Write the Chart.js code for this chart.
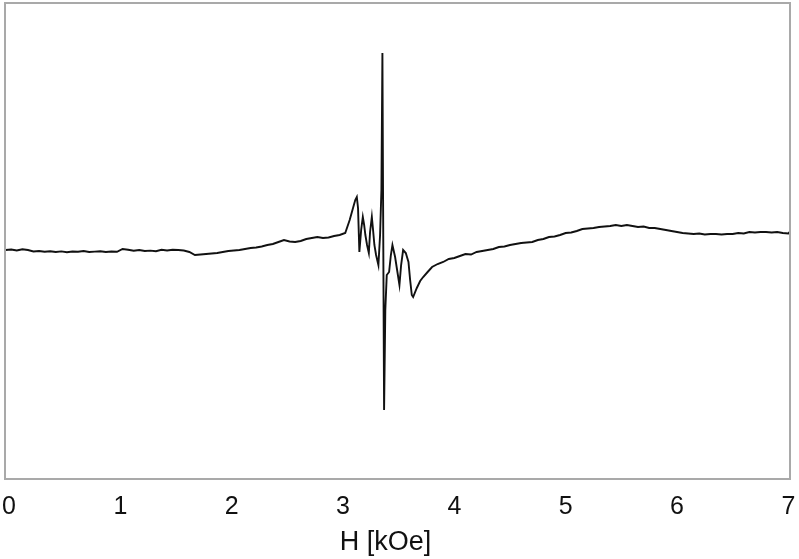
<!DOCTYPE html>
<html>
<head>
<meta charset="utf-8">
<script src="https://cdn.jsdelivr.net/npm/chart.js@4/dist/chart.umd.min.js"></script>
<style>
  html, body { margin: 0; padding: 0; background: #ffffff; }
  #wrap { width: 799px; height: 559px; }
</style>
</head>
<body>
<div id="wrap"><canvas id="c" width="799" height="559"></canvas></div>
<script>
// Magnetic field H [kOe]
const hField = [
  -0.03, 0.02, 0.07, 0.12, 0.17, 0.22, 0.27, 0.32, 0.37, 0.42, 0.47, 0.52, 0.57, 0.62, 0.67, 0.72, 0.77, 0.82, 0.87, 0.92,
  0.97, 1.02, 1.07, 1.12, 1.17, 1.22, 1.27, 1.32, 1.37, 1.42, 1.47, 1.52, 1.57, 1.62, 1.67, 1.72, 1.77, 1.82, 1.87, 1.92,
  1.97, 2.02, 2.07, 2.12, 2.17, 2.22, 2.27, 2.32, 2.37, 2.42, 2.47, 2.52, 2.57, 2.62, 2.67, 2.72, 2.77, 2.82, 2.87, 2.92,
  2.97, 3.02, 3.06, 3.09, 3.11, 3.124, 3.135, 3.147, 3.163, 3.178, 3.19, 3.201, 3.216, 3.232, 3.243, 3.259, 3.27, 3.282,
  3.297, 3.318, 3.333, 3.345, 3.354, 3.360, 3.369, 3.38, 3.393, 3.414, 3.43, 3.444, 3.468, 3.486, 3.507, 3.522, 3.540,
  3.564, 3.588, 3.603, 3.618, 3.630, 3.663, 3.693, 3.72, 3.76, 3.80, 3.85, 3.90, 3.95, 4.00, 4.05, 4.10, 4.15, 4.20,
  4.25, 4.30, 4.35, 4.40, 4.45, 4.50, 4.55, 4.60, 4.65, 4.70, 4.75, 4.80, 4.85, 4.90, 4.95, 5.00, 5.05, 5.10, 5.15,
  5.20, 5.25, 5.30, 5.35, 5.40, 5.45, 5.50, 5.55, 5.60, 5.65, 5.70, 5.75, 5.80, 5.85, 5.90, 5.95, 6.00, 6.05, 6.10,
  6.15, 6.20, 6.25, 6.30, 6.35, 6.40, 6.45, 6.50, 6.55, 6.60, 6.65, 6.70, 6.75, 6.80, 6.85, 6.90, 6.95, 7.00, 7.01
];
// EPR signal (arbitrary units)
const signal = [
  0, 0.5, -0.5, 0.8, 0, -1.5, -1, -1.8, -1.2, -2, -1.4, -2.2, -1.5, -1.8, -1, -2, -1.6, -1.2, -2, -1.5,
  -1.8, 1, 0.2, -0.8, 0, -1, -0.6, -1.2, 0.2, -0.5, 0.3, 0, -0.5, -2, -5, -4.5, -4, -3.5, -3, -2,
  -1, -0.5, 0, 1, 2, 2.5, 3.5, 5, 6, 8, 10, 8.5, 8, 9, 11, 12, 13, 12, 12.5, 14,
  15, 17, 30, 42, 50, 53, 42, -2, 20, 33, 25, 15, 5, -3, 18, 33, 20, 5,
  -5, -15, 15, 60, 197, 50, -160, -60, -25, -22, -5, 5, -7, -20, -35, -15, 0,
  -3, -12, -30, -45, -47, -38, -31, -27, -22, -17, -14, -12, -9, -8, -6, -4, -4.5, -2,
  -1, 0, 1, 3, 3.5, 5, 6, 7, 7.5, 8, 10, 11, 13, 13.5, 15, 17, 17.5, 19, 21,
  21.5, 22, 23, 23.5, 24, 25, 24, 25, 24, 23, 23.5, 22, 22, 21, 20, 19, 18, 17, 16.5,
  16, 16.5, 15.5, 16, 16, 15.5, 16, 16, 17, 16.5, 18, 17.5, 18, 18, 17.5, 18, 17, 16.5, 18
];
const xTicks = [0, 1, 2, 3, 4, 5, 6, 7];
const xTitle = 'H [kOe]';

const points = hField.map((h, i) => ({ x: h, y: signal[i] }));

const frame = {
  id: 'frame',
  afterDatasetsDraw(chart) {
    const a = chart.chartArea, ctx = chart.ctx;
    ctx.save();
    ctx.strokeStyle = '#a9a9a9';
    ctx.lineWidth = 2;
    ctx.strokeRect(a.left, a.top, a.right - a.left, a.bottom - a.top);
    ctx.restore();
  },
  afterDraw(chart) {
    const a = chart.chartArea, ctx = chart.ctx;
    ctx.save();
    ctx.font = '27px "Liberation Sans", Arial, sans-serif';
    ctx.fillStyle = '#111';
    ctx.textAlign = 'center';
    ctx.textBaseline = 'middle';
    ctx.fillText(xTitle, (a.left + a.right) / 2 - 12, 543);
    ctx.restore();
  }
};

new Chart(document.getElementById('c'), {
  type: 'line',
  data: {
    datasets: [{
      data: points,
      borderColor: '#111111',
      borderWidth: 1.9,
      pointRadius: 0,
      tension: 0,
      fill: false
    }]
  },
  options: {
    responsive: false,
    animation: false,
    devicePixelRatio: 1,
    layout: { padding: { left: 5, right: 9, top: 3, bottom: 37 } },
    plugins: { legend: { display: false }, tooltip: { enabled: false } },
    scales: {
      x: {
        type: 'linear',
        min: -0.036,
        max: 7.015,
        afterBuildTicks: s => { s.ticks = xTicks.map(v => ({ value: v })); },
        grid: { display: true, drawOnChartArea: false, drawTicks: true, tickLength: 13, color: 'rgba(0,0,0,0)' },
        border: { display: false },
        ticks: {
          padding: 0,
          color: '#111',
          font: { family: '"Liberation Sans", Arial, sans-serif', size: 25 },
          maxRotation: 0,
          autoSkip: false
        }
      },
      y: {
        type: 'linear',
        min: -229,
        max: 247,
        display: false
      }
    }
  },
  plugins: [frame]
});
</script>
</body>
</html>
